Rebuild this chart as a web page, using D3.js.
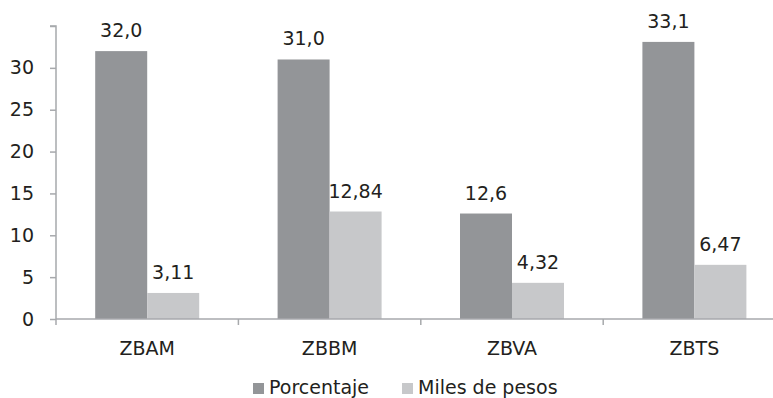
<!DOCTYPE html>
<html><head><meta charset="utf-8">
<script src="https://cdn.jsdelivr.net/npm/d3@7"></script>
<style>body{margin:0;background:#fff}svg{display:block}text{font-family:"DejaVu Sans",sans-serif;fill:#231f20}</style>
</head><body><div id="chart"></div>
<script>
const categories = ["ZBAM","ZBBM","ZBVA","ZBTS"];
const seriesNames = ["Porcentaje","Miles de pesos"];
const porcentaje = [32.0,31.0,12.6,33.1];
const milesPesos = [3.11,12.84,4.32,6.47];
const porcentajeLabels = ["32,0","31,0","12,6","33,1"];
const milesLabels = ["3,11","12,84","4,32","6,47"];
const yTicks = [0,5,10,15,20,25,30,35];
const colors = ["#939598","#c7c8ca"];

const W=773,H=398, FONT="DejaVu Sans";
const svg=d3.select("#chart").append("svg").attr("width",W).attr("height",H);
const x0=56, xEnd=785.6;
const x=d3.scaleBand().domain(categories).range([x0,xEnd]).paddingInner(0).paddingOuter(0);
const y=d3.scaleLinear().domain([0,35]).range([319,26]);
const xs=d3.scaleBand().domain(seriesNames).range([0,104]);
const gOff=(x.bandwidth()-104)/2;

// y axis
const yAxis=d3.axisLeft(y).tickValues(yTicks).tickSize(6).tickFormat(d=>d===35?"":d);
const gy=svg.append("g").attr("transform",`translate(${x0},0)`).call(yAxis);
gy.select(".domain").attr("stroke","#a7a9ac").attr("stroke-width",1.5).attr("d",`M-6,${y(35)}H0V${y(0)}`);
gy.selectAll(".tick line").attr("stroke","#a7a9ac").attr("stroke-width",1.5);
gy.selectAll(".tick text").attr("x",-22).style("font-size","19px").style("font-family",FONT).attr("fill","#231f20");

// bars
const data=categories.map((c,i)=>({c,vals:[{s:seriesNames[0],v:porcentaje[i],l:porcentajeLabels[i]},{s:seriesNames[1],v:milesPesos[i],l:milesLabels[i]}]}));
const grp=svg.selectAll("g.grp").data(data).join("g").attr("class","grp").attr("transform",d=>`translate(${x(d.c)+gOff},0)`);
grp.selectAll("rect").data(d=>d.vals).join("rect")
 .attr("x",d=>xs(d.s)).attr("width",xs.bandwidth()).attr("y",d=>y(d.v)).attr("height",d=>y(0)-y(d.v))
 .attr("fill",(d,i)=>colors[i]);
grp.selectAll("text.val").data(d=>d.vals).join("text").attr("class","val")
 .attr("x",d=>xs(d.s)+xs.bandwidth()/2).attr("y",d=>y(d.v)-14).attr("text-anchor","middle")
 .style("font-size","19px").text(d=>d.l);

// x axis
const xAxis=d3.axisBottom(x).tickSize(0).tickFormat(d=>d);
const gx=svg.append("g").attr("transform",`translate(0,${y(0)})`).call(xAxis);
gx.select(".domain").attr("stroke","#a7a9ac").attr("stroke-width",1.5).attr("d",`M${x0},0H${xEnd}`);
gx.selectAll(".tick text").attr("y",36).attr("dy",0).style("font-size","19px").style("font-family",FONT).attr("fill","#231f20");
const bounds=categories.map(c=>x(c)).concat([xEnd]);
gx.selectAll("line.bnd").data(bounds).join("line").attr("class","bnd")
 .attr("x1",d=>d).attr("x2",d=>d).attr("y1",0).attr("y2",6).attr("stroke","#a7a9ac").attr("stroke-width",1.5);

// legend
const leg=svg.append("g");
const legX=[253,402];
seriesNames.forEach((s,i)=>{
  leg.append("rect").attr("x",legX[i]).attr("y",383).attr("width",11).attr("height",11).attr("fill",colors[i]);
  leg.append("text").attr("x",legX[i]+16).attr("y",394).style("font-size","19px").text(s);
});
</script></body></html>
